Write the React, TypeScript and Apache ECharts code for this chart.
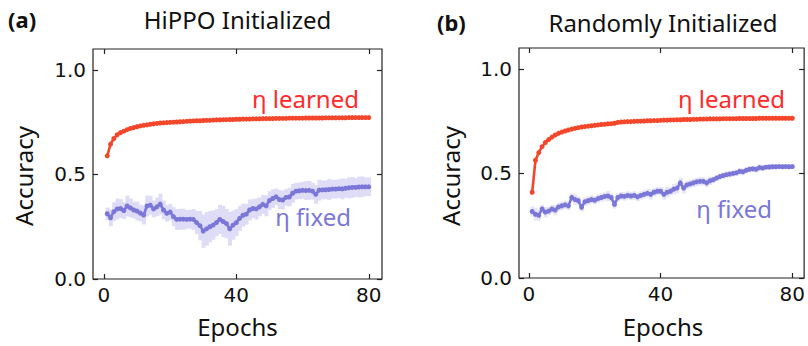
import React, { useEffect, useRef } from "react";
import * as echarts from "echarts";

const epochs: number[] = Array.from({ length: 80 }, (_, i) => i + 1);

const hippoLearned: number[] = [
  0.589, 0.645, 0.672, 0.69, 0.7, 0.707, 0.714, 0.72, 0.724, 0.728,
  0.732, 0.735, 0.737, 0.74, 0.742, 0.744, 0.746, 0.747, 0.748, 0.749,
  0.75, 0.751, 0.752, 0.753, 0.754, 0.755, 0.756, 0.757, 0.757, 0.758,
  0.759, 0.759, 0.76, 0.761, 0.761, 0.762, 0.762, 0.763, 0.763, 0.764,
  0.764, 0.765, 0.765, 0.765, 0.766, 0.766, 0.766, 0.767, 0.767, 0.767,
  0.767, 0.768, 0.768, 0.768, 0.768, 0.769, 0.769, 0.769, 0.769, 0.769,
  0.77, 0.77, 0.77, 0.77, 0.77, 0.77, 0.771, 0.771, 0.771, 0.771,
  0.771, 0.771, 0.771, 0.772, 0.772, 0.772, 0.772, 0.772, 0.772, 0.772,
];

const hippoFixed: number[] = [
  0.312, 0.293, 0.322, 0.335, 0.337, 0.327, 0.349, 0.34, 0.33, 0.325,
  0.315, 0.306, 0.349, 0.353, 0.335, 0.345, 0.358, 0.33, 0.314, 0.32,
  0.298, 0.285, 0.286, 0.286, 0.285, 0.286, 0.285, 0.27, 0.255, 0.229,
  0.24, 0.25, 0.258, 0.27, 0.285, 0.275, 0.265, 0.24, 0.258, 0.27,
  0.29, 0.305, 0.31, 0.33, 0.337, 0.335, 0.345, 0.357, 0.35, 0.375,
  0.385, 0.393, 0.38, 0.378, 0.39, 0.392, 0.41, 0.42, 0.422, 0.424,
  0.423, 0.424, 0.42, 0.405, 0.425, 0.426, 0.427, 0.428, 0.43, 0.43,
  0.432, 0.431, 0.434, 0.436, 0.438, 0.438, 0.44, 0.441, 0.441, 0.441,
];

const hippoFixedErr: number[] = [
  0.03, 0.04, 0.045, 0.05, 0.045, 0.04, 0.05, 0.045, 0.04, 0.045,
  0.04, 0.045, 0.05, 0.045, 0.04, 0.045, 0.05, 0.045, 0.04, 0.04,
  0.045, 0.05, 0.05, 0.05, 0.045, 0.045, 0.05, 0.055, 0.07, 0.08,
  0.08, 0.075, 0.07, 0.065, 0.07, 0.075, 0.07, 0.08, 0.07, 0.065,
  0.06, 0.055, 0.05, 0.05, 0.045, 0.05, 0.045, 0.045, 0.05, 0.045,
  0.045, 0.04, 0.045, 0.045, 0.04, 0.045, 0.045, 0.04, 0.04, 0.04,
  0.045, 0.045, 0.04, 0.045, 0.05, 0.045, 0.045, 0.05, 0.045, 0.045,
  0.045, 0.05, 0.045, 0.05, 0.05, 0.045, 0.05, 0.05, 0.045, 0.045,
];

const randomLearned: number[] = [
  0.41, 0.563, 0.6, 0.628, 0.648, 0.662, 0.674, 0.684, 0.692, 0.698,
  0.703, 0.708, 0.712, 0.716, 0.719, 0.722, 0.724, 0.726, 0.728, 0.73,
  0.732, 0.734, 0.735, 0.737, 0.738, 0.74, 0.744, 0.746, 0.747, 0.748,
  0.748, 0.749, 0.75, 0.75, 0.751, 0.752, 0.752, 0.753, 0.753, 0.754,
  0.755, 0.755, 0.756, 0.756, 0.757, 0.757, 0.758, 0.758, 0.758, 0.759,
  0.759, 0.76, 0.76, 0.76, 0.761, 0.761, 0.761, 0.761, 0.762, 0.762,
  0.762, 0.762, 0.762, 0.763, 0.763, 0.763, 0.763, 0.763, 0.763, 0.764,
  0.764, 0.764, 0.764, 0.764, 0.764, 0.764, 0.764, 0.764, 0.764, 0.764,
];

const randomFixed: number[] = [
  0.318, 0.305, 0.3, 0.33, 0.315, 0.32, 0.33, 0.325, 0.34, 0.345,
  0.35, 0.345, 0.385, 0.375, 0.37, 0.338, 0.365, 0.37, 0.375, 0.372,
  0.38, 0.385, 0.39, 0.392, 0.385, 0.352, 0.385, 0.392, 0.39, 0.395,
  0.392, 0.395, 0.388, 0.395, 0.4, 0.405, 0.4, 0.41, 0.415, 0.415,
  0.4, 0.41, 0.415, 0.425, 0.43, 0.455, 0.43, 0.445, 0.45, 0.455,
  0.46, 0.462, 0.462, 0.455, 0.465, 0.47, 0.478, 0.485, 0.49, 0.494,
  0.497, 0.5, 0.503, 0.51, 0.508, 0.515, 0.52, 0.522, 0.52, 0.528,
  0.526, 0.53, 0.531, 0.532, 0.532, 0.533, 0.532, 0.533, 0.532, 0.533,
];

const randomFixedErr: number[] = [
  0.025, 0.03, 0.025, 0.02, 0.025, 0.02, 0.02, 0.025, 0.02, 0.02,
  0.02, 0.02, 0.02, 0.025, 0.02, 0.02, 0.02, 0.02, 0.02, 0.02,
  0.02, 0.02, 0.02, 0.025, 0.02, 0.02, 0.02, 0.02, 0.02, 0.02,
  0.02, 0.02, 0.02, 0.02, 0.02, 0.02, 0.025, 0.02, 0.02, 0.02,
  0.025, 0.025, 0.02, 0.025, 0.025, 0.025, 0.025, 0.02, 0.02, 0.02,
  0.02, 0.02, 0.02, 0.02, 0.02, 0.015, 0.015, 0.015, 0.015, 0.015,
  0.015, 0.015, 0.015, 0.015, 0.015, 0.015, 0.015, 0.015, 0.015, 0.015,
  0.012, 0.012, 0.012, 0.012, 0.012, 0.012, 0.012, 0.012, 0.012, 0.012,
];

const xTicks: number[] = [0, 40, 80];
const yTicks: number[] = [0, 0.5, 1.0];
const panelTitles: string[] = ["HiPPO Initialized", "Randomly Initialized"];
const panelTags: string[] = ["(a)", "(b)"];

const RED = "#f4462b";
const RED_TEXT = "#ff2a2a";
const PURPLE = "#7a77d8";
const BAND = "#dedcf6";
const BAND2 = "#e6e5f8";
const TICK_FONT = "DejaVu Sans";
const LABEL_FONT = "'Noto Sans', 'Open Sans', sans-serif";

export default function App() {
  const ref = useRef<HTMLDivElement>(null);

  useEffect(() => {
    if (!ref.current) return;
    const chart = echarts.init(ref.current, undefined, { renderer: "svg" });

    const grids = [
      { left: 93, top: 49, width: 289, height: 230, xmin: -3.3, xmax: 84 },
      { left: 519, top: 48, width: 288, height: 230, xmin: -3.0, xmax: 83.6 },
    ];

    const tickStyle = { color: "#222", width: 1.2 };
    const xAxes: any[] = [];
    const yAxes: any[] = [];
    grids.forEach((g, i) => {
      xAxes.push({
        type: "value",
        gridIndex: i,
        position: "bottom",
        min: g.xmin,
        max: g.xmax,
        axisLine: { show: false, onZero: false },
        splitLine: { show: false },
        axisTick: { show: true, inside: true, length: 5, customValues: xTicks, lineStyle: tickStyle },
        axisLabel: {
          show: true,
          customValues: xTicks,
          margin: 6,
          fontFamily: TICK_FONT,
          fontSize: 20,
          color: "#111",
        },
      });
      xAxes.push({
        type: "value",
        gridIndex: i,
        position: "top",
        min: g.xmin,
        max: g.xmax,
        axisLine: { show: false, onZero: false },
        splitLine: { show: false },
        axisTick: { show: true, inside: true, length: 5, customValues: xTicks, lineStyle: tickStyle },
        axisLabel: { show: false },
      });
      yAxes.push({
        type: "value",
        gridIndex: i,
        position: "left",
        min: 0,
        max: 1.1,
        axisLine: { show: false, onZero: false },
        splitLine: { show: false },
        axisTick: { show: true, inside: true, length: 5, customValues: yTicks, lineStyle: tickStyle },
        axisLabel: {
          show: true,
          customValues: yTicks,
          margin: 7,
          fontFamily: TICK_FONT,
          fontSize: 20,
          color: "#111",
          formatter: (v: number) => v.toFixed(1),
        },
      });
      yAxes.push({
        type: "value",
        gridIndex: i,
        position: "right",
        min: 0,
        max: 1.1,
        axisLine: { show: false, onZero: false },
        splitLine: { show: false },
        axisTick: { show: true, inside: true, length: 5, customValues: yTicks, lineStyle: tickStyle },
        axisLabel: { show: false },
      });
    });

    const bandSeries = (idx: number, mean: number[], err: number[], color: string) => ({
      type: "custom",
      xAxisIndex: idx * 2,
      yAxisIndex: idx * 2,
      silent: true,
      z: 1,
      data: epochs.map((e, i) => [e, mean[i] - err[i], mean[i] + err[i]]),
      encode: { x: 0, y: [1, 2] },
      renderItem: (params: any, api: any) => {
        const x = api.value(0);
        const lo = api.value(1);
        const hi = api.value(2);
        const p1 = api.coord([x - 0.5, hi]);
        const p2 = api.coord([x + 0.5, lo]);
        return {
          type: "rect",
          shape: { x: p1[0], y: p1[1], width: p2[0] - p1[0] + 0.6, height: p2[1] - p1[1] },
          style: { fill: color },
        };
      },
    });

    const lineSeries = (idx: number, vals: number[], color: string, z: number) => ({
      type: "line",
      xAxisIndex: idx * 2,
      yAxisIndex: idx * 2,
      data: epochs.map((e, i) => [e, vals[i]]),
      symbol: "circle",
      symbolSize: 5,
      showSymbol: true,
      itemStyle: { color },
      lineStyle: { color, width: 2.6 },
      z,
    });

    const texts: any[] = [];
    const centers = [237.5, 663];
    const tagX = [8, 437];
    const titleY = [19, 22];
    const accX = [23, 450];
    grids.forEach((g, i) => {
      texts.push({
        type: "text",
        x: tagX[i],
        y: titleY[i],
        style: { text: panelTags[i], font: `bold 22px ${LABEL_FONT}`, fill: "#111", textAlign: "left", textVerticalAlign: "middle" },
      });
      texts.push({
        type: "text",
        x: centers[i],
        y: titleY[i],
        style: { text: panelTitles[i], font: `24px ${LABEL_FONT}`, fill: "#111", textAlign: "center", textVerticalAlign: "middle" },
      });
      texts.push({
        type: "text",
        x: centers[i],
        y: 326,
        style: { text: "Epochs", font: `24px ${LABEL_FONT}`, fill: "#111", textAlign: "center", textVerticalAlign: "middle" },
      });
      texts.push({
        type: "text",
        x: accX[i],
        y: 176,
        rotation: Math.PI / 2,
        style: { text: "Accuracy", font: `24px ${LABEL_FONT}`, fill: "#111", textAlign: "center", textVerticalAlign: "middle" },
      });
    });
    texts.push(
      { type: "text", x: 359, y: 98, style: { text: "η learned", font: `24px ${LABEL_FONT}`, fill: RED_TEXT, textAlign: "right", textVerticalAlign: "middle" } },
      { type: "text", x: 351, y: 216, style: { text: "η fixed", font: `24px ${LABEL_FONT}`, fill: PURPLE, textAlign: "right", textVerticalAlign: "middle" } },
      { type: "text", x: 785, y: 98, style: { text: "η learned", font: `24px ${LABEL_FONT}`, fill: RED_TEXT, textAlign: "right", textVerticalAlign: "middle" } },
      { type: "text", x: 772, y: 208, style: { text: "η fixed", font: `24px ${LABEL_FONT}`, fill: PURPLE, textAlign: "right", textVerticalAlign: "middle" } }
    );

    chart.setOption({
      animation: false,
      backgroundColor: "#ffffff",
      grid: grids.map((g) => ({
        left: g.left,
        top: g.top,
        width: g.width,
        height: g.height,
        show: true,
        borderColor: "#222",
        borderWidth: 1.2,
        backgroundColor: "transparent",
        containLabel: false,
      })),
      xAxis: xAxes,
      yAxis: yAxes,
      series: [
        bandSeries(0, hippoFixed, hippoFixedErr, BAND),
        lineSeries(0, hippoFixed, PURPLE, 3),
        lineSeries(0, hippoLearned, RED, 4),
        bandSeries(1, randomFixed, randomFixedErr, BAND2),
        lineSeries(1, randomFixed, PURPLE, 3),
        lineSeries(1, randomLearned, RED, 4),
      ],
      graphic: texts,
    });

    return () => chart.dispose();
  }, []);

  return (
    <div
      ref={ref}
      style={{ position: "absolute", left: 0, top: 0, width: 808, height: 346, background: "#fff" }}
    />
  );
}
